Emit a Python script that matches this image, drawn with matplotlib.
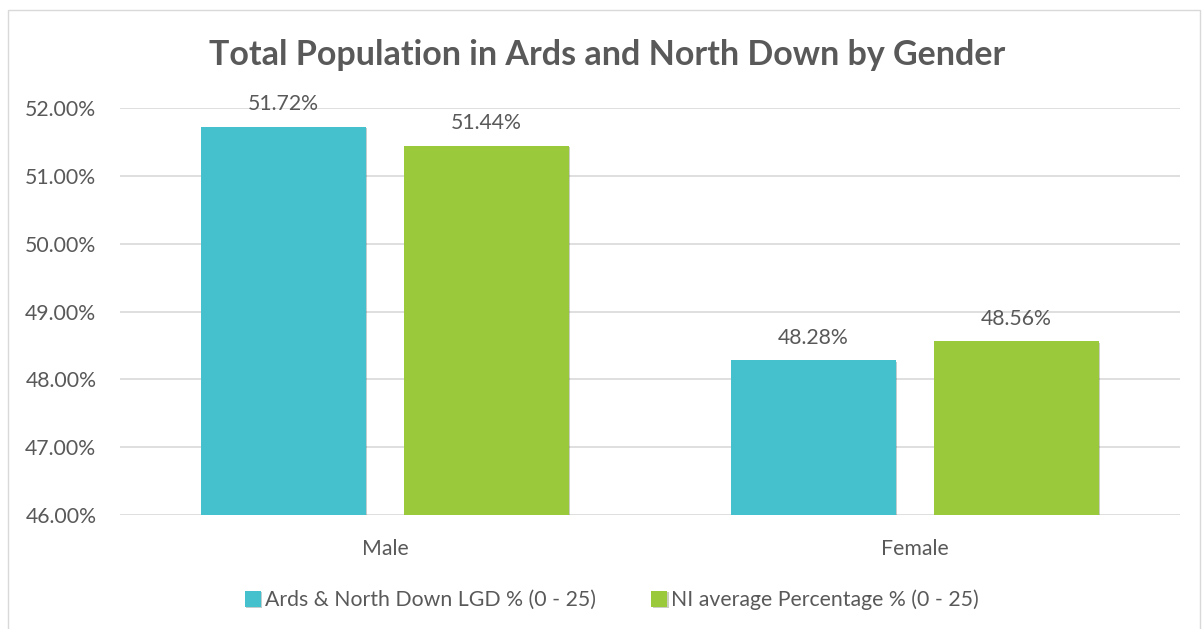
import matplotlib.pyplot as plt
import matplotlib.patheffects as pe
import numpy as np
from matplotlib.patches import Rectangle

categories = ["Male", "Female"]
ards_values = [51.72, 48.28]
ni_values = [51.44, 48.56]
series_names = ["Ards & North Down LGD % (0 - 25)", "NI average Percentage % (0 - 25)"]
yticks = [46, 47, 48, 49, 50, 51, 52]

text_col = "#595959"
fs = 15.3
plt.rcParams["font.family"] = ["Lato", "DejaVu Sans"]

fig = plt.figure(figsize=(12.04, 6.29), dpi=100)
ax = fig.add_axes([120 / 1204, 1 - 515 / 629, 1060 / 1204, (515 - 108) / 629])

x = np.arange(len(categories))
w = 0.311
gap = 0.072
shadow = [pe.SimplePatchShadow(offset=(1, -1), alpha=0.25), pe.Normal()]
b1 = ax.bar(x - (w + gap) / 2, [v - 46 for v in ards_values], w, bottom=46,
            color="#44c1cd", label=series_names[0], zorder=3, path_effects=shadow)
b2 = ax.bar(x + (w + gap) / 2, [v - 46 for v in ni_values], w, bottom=46,
            color="#9aca3c", label=series_names[1], zorder=3, path_effects=shadow)

for bars, vals in [(b1, ards_values), (b2, ni_values)]:
    for bar, v in zip(bars, vals):
        ax.annotate(f"{v:.2f}%", (bar.get_x() + bar.get_width() / 2, v),
                    xytext=(0, 9), textcoords="offset points", ha="center", va="bottom",
                    fontsize=fs, color=text_col)

ax.set_xlim(-0.5, 1.5)
ax.set_ylim(46, 52)
ax.set_yticks(yticks)
ax.set_yticklabels([f"{t:.2f}%" for t in yticks], fontsize=fs, color=text_col)
ax.set_xticks(x)
ax.set_xticklabels(categories, fontsize=fs, color=text_col)
ax.tick_params(axis="y", length=0, pad=17)
ax.tick_params(axis="x", length=0, pad=17)
ax.yaxis.grid(True, color="#d9d9d9", linewidth=1.2, zorder=0)
for s in ax.spines.values():
    s.set_visible(False)

fig.text(607 / 1204, 1 - 55 / 629, "Total Population in Ards and North Down by Gender",
         ha="center", va="center", fontsize=24.5, fontweight="bold", color=text_col)

fig.legend(handles=[b1, b2], loc="center", bbox_to_anchor=(612 / 1204, 1 - 600 / 629),
           ncol=2, frameon=False, fontsize=fs, labelcolor=text_col,
           handlelength=0.75, handleheight=0.75, handletextpad=0.2, columnspacing=2.6)

fig.patches.append(Rectangle((8 / 1204, -0.01), 1192 / 1204, 1 - 10 / 629 + 0.01,
                             transform=fig.transFigure, fill=False,
                             edgecolor="#d9d9d9", linewidth=1))

fig.savefig("out.png", dpi=100)
